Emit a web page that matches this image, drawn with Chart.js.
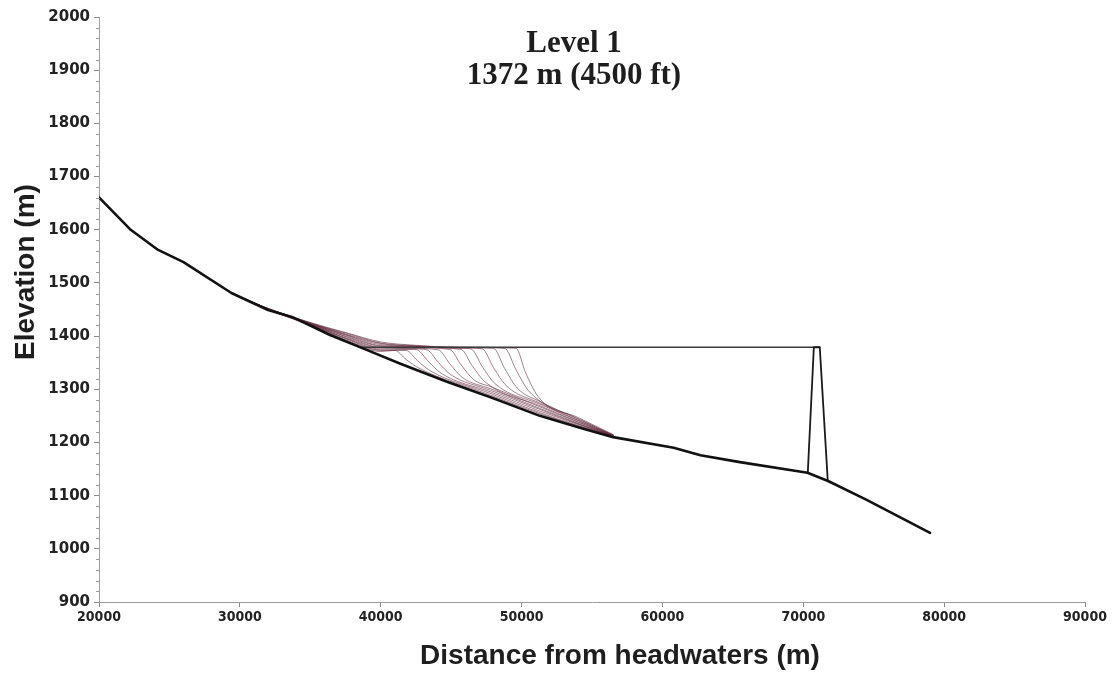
<!DOCTYPE html>
<html>
<head>
<meta charset="utf-8">
<script src="https://cdn.jsdelivr.net/npm/chart.js@4.4.1/dist/chart.umd.min.js"></script>
<style>
  html, body { margin: 0; padding: 0; background: #ffffff; }
  #wrap { width: 1112px; height: 679px; position: relative; }
  canvas { display: block; }
</style>
</head>
<body>
<div id="wrap"><canvas id="c" width="1112" height="679"></canvas></div>
<script>
// ---------- DATA ----------
const chartTitle = ["Level 1", "1372 m (4500 ft)"];
const xTitle = "Distance from headwaters (m)";
const yTitle = "Elevation (m)";

const xTicks = [20000, 30000, 40000, 50000, 60000, 70000, 80000, 90000];
const yTicks = [900, 1000, 1100, 1200, 1300, 1400, 1500, 1600, 1700, 1800, 1900, 2000];

// Original river bed profile
const bedX = [20000, 22200, 24200, 26000, 29400, 32000, 33700, 36400, 39000, 41400, 44700, 47800, 51300, 54200, 56500, 60800, 62700, 65500, 70300, 71800, 74500, 79000];
const bedY = [1661, 1601, 1562, 1539, 1481, 1449, 1436, 1402, 1374, 1348, 1314, 1285, 1250, 1227, 1210, 1190, 1176, 1163, 1143, 1127, 1092, 1030];

// Reservoir pool surface
const waterX = [38600, 71170];
const waterY = [1379, 1379];

// Dam outline
const damX = [70320, 70750, 71170, 71740];
const damY = [1143, 1379, 1379, 1127];

// Successive sediment deposit profiles [distance, elevation]
const sed01 = [[30500,1468],[32000,1450],[35200,1418],[37600,1391],[40000,1371],[41000,1373],[41800,1356],[42700,1340],[47800,1289],[51300,1254],[54000,1231],[56500,1212]];
const sed02 = [[30500,1468],[32000,1450],[35200,1419],[37600,1392],[40000,1373],[41800,1373],[42600,1354],[43500,1335],[47800,1292],[51300,1256],[54000,1232],[56500,1212]];
const sed03 = [[30500,1468],[32000,1450],[35200,1419],[37600,1394],[40000,1374],[42300,1375],[42600,1374],[43400,1352],[44300,1330],[47800,1295],[51300,1259],[54000,1234],[56500,1212]];
const sed04 = [[30500,1468],[32000,1451],[35200,1420],[37600,1395],[40000,1376],[42300,1376],[43300,1374],[44100,1350],[45000,1327],[47800,1298],[51300,1262],[54000,1235],[56500,1212]];
const sed05 = [[30500,1468],[32000,1451],[35200,1420],[37600,1396],[40000,1378],[42300,1377],[44100,1374],[44900,1348],[45800,1322],[47800,1301],[51300,1264],[54000,1236],[56500,1212]];
const sed06 = [[30500,1468],[32000,1451],[35200,1421],[37600,1398],[40000,1379],[42300,1378],[44900,1375],[45700,1346],[46600,1318],[47800,1305],[51300,1267],[54000,1238],[56500,1213]];
const sed07 = [[30500,1468],[32000,1451],[35200,1421],[37600,1399],[40000,1381],[42300,1379],[45700,1375],[46500,1344],[47400,1314],[51300,1269],[54000,1239],[56500,1213]];
const sed08 = [[30500,1468],[32000,1451],[35200,1422],[37600,1401],[40000,1382],[42300,1380],[45600,1377],[46400,1376],[47200,1343],[48100,1311],[51300,1272],[54000,1241],[56500,1213]];
const sed09 = [[30500,1468],[32000,1451],[35200,1422],[37600,1402],[40000,1384],[42300,1381],[45600,1378],[47200,1376],[48000,1341],[48900,1307],[51300,1274],[54000,1242],[56500,1213]];
const sed10 = [[30500,1468],[32000,1452],[35200,1423],[37600,1403],[40000,1386],[42300,1381],[45600,1378],[48000,1377],[48800,1339],[49700,1302],[51300,1277],[54000,1244],[56500,1214]];
const sed11 = [[30500,1468],[32000,1452],[35200,1423],[37600,1405],[40000,1387],[42300,1382],[45600,1379],[48800,1377],[49600,1337],[50500,1297],[54000,1245],[56500,1214]];
const sed12 = [[30500,1468],[32000,1452],[35200,1424],[37600,1406],[40000,1389],[42300,1383],[45600,1379],[49600,1377],[50300,1330],[51300,1282],[54000,1247],[56500,1215]];
const sedimentProfiles = [sed01, sed02, sed03, sed04, sed05, sed06, sed07, sed08, sed09, sed10, sed11, sed12];

// ---------- BUILD ----------
const zipXY = (xs, ys) => xs.map((x, i) => ({ x: x, y: ys[i] }));
const fromPairs = (arr) => arr.map(p => ({ x: p[0], y: p[1] }));

const datasets = [
  { label: 'Bed', data: zipXY(bedX, bedY), borderColor: '#111111', borderWidth: 2.6, showLine: true, pointRadius: 0, tension: 0 },
  { label: 'Dam', data: zipXY(damX, damY), borderColor: '#1a1a1a', borderWidth: 1.8, showLine: true, pointRadius: 0, tension: 0 },
  { label: 'Pool', data: zipXY(waterX, waterY), borderColor: '#3a3a3a', borderWidth: 1.5, showLine: true, pointRadius: 0, tension: 0 }
];
sedimentProfiles.forEach((p, i) => {
  datasets.push({
    label: 'Deposit ' + (i + 1),
    data: fromPairs(p),
    borderColor: 'rgba(92,35,55,0.72)',
    borderWidth: 0.8,
    showLine: true,
    pointRadius: 0,
    cubicInterpolationMode: 'monotone'
  });
});

const textPlugin = {
  id: 'texts',
  afterDraw(chart) {
    const ctx = chart.ctx;
    const ys = chart.scales.y;
    ctx.save();
    // minor ticks on the y axis
    ctx.strokeStyle = '#9a9a9a';
    ctx.lineWidth = 1;
    for (let v = ys.min; v <= ys.max; v += 20) {
      if (v % 100 === 0) continue;
      const py = Math.round(ys.getPixelForValue(v)) + 0.5;
      ctx.beginPath();
      ctx.moveTo(ys.right - 3, py);
      ctx.lineTo(ys.right + 1, py);
      ctx.stroke();
    }
    // chart title
    ctx.fillStyle = '#1e1e1e';
    ctx.textAlign = 'center';
    ctx.textBaseline = 'alphabetic';
    ctx.font = 'bold 31px "Liberation Serif", "Times New Roman", serif';
    ctx.fillText(chartTitle[0], 574, 52);
    ctx.fillText(chartTitle[1], 574, 84);
    // axis titles
    ctx.font = 'bold 28px "Liberation Sans", Arial, sans-serif';
    ctx.textBaseline = 'middle';
    ctx.fillText(xTitle, 620, 656);
    ctx.translate(26, 272);
    ctx.rotate(-Math.PI / 2);
    ctx.fillText(yTitle, 0, 0);
    ctx.restore();
  }
};

new Chart(document.getElementById('c').getContext('2d'), {
  type: 'scatter',
  data: { datasets: datasets },
  options: {
    responsive: false,
    devicePixelRatio: 1,
    animation: false,
    events: [],
    layout: { padding: { top: 17, right: 27, left: 0, bottom: 0 } },
    elements: { line: { borderJoinStyle: 'round', borderCapStyle: 'round' } },
    plugins: { legend: { display: false }, tooltip: { enabled: false }, title: { display: false } },
    scales: {
      x: {
        type: 'linear',
        min: xTicks[0],
        max: xTicks[xTicks.length - 1],
        afterBuildTicks: (s) => { s.ticks = xTicks.map(v => ({ value: v })); },
        afterFit: (s) => { s.height = 77; },
        border: { display: true, color: '#999999', width: 1 },
        grid: { display: true, drawOnChartArea: false, tickLength: 5, color: '#8a8a8a' },
        ticks: {
          color: '#222222',
          padding: 2,
          maxRotation: 0,
          autoSkip: false,
          font: { family: '"DejaVu Sans Condensed", "Liberation Sans Narrow", "Arial Narrow", sans-serif', weight: 'bold', size: 14 },
          callback: (v) => String(v)
        }
      },
      y: {
        type: 'linear',
        min: yTicks[0],
        max: yTicks[yTicks.length - 1],
        afterBuildTicks: (s) => { s.ticks = yTicks.map(v => ({ value: v })); },
        afterFit: (s) => { s.width = 99; },
        border: { display: true, color: '#a0a0a0', width: 1 },
        grid: { display: true, drawOnChartArea: false, tickLength: 5, color: '#8a8a8a' },
        ticks: {
          color: '#222222',
          padding: 4,
          autoSkip: false,
          font: { family: '"DejaVu Sans", Arial, sans-serif', weight: 'bold', size: 15 },
          callback: (v) => String(v)
        }
      }
    }
  },
  plugins: [textPlugin]
});
</script>
</body>
</html>
